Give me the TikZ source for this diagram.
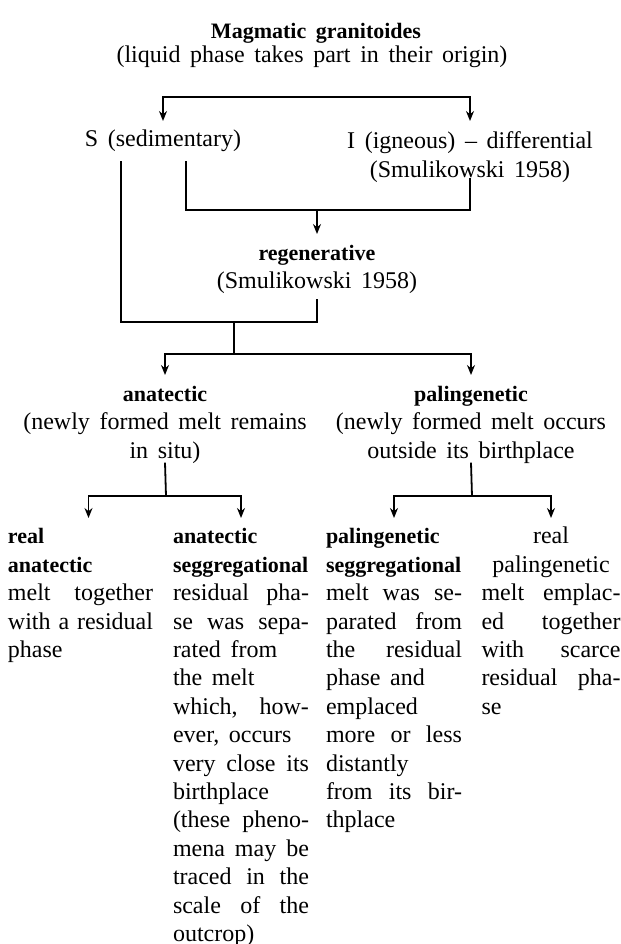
\documentclass[tikz,border=0pt]{standalone}
\usepackage{fontspec}
\setmainfont{Liberation Serif}
\usetikzlibrary{arrows.meta,positioning,calc}
\newcommand\widesp{\spaceskip=0.4em plus 0.3em minus 0.15em\relax}
\tikzset{
  txt/.style={inner sep=0pt,outer sep=3pt,font=\fontsize{12}{14.2}\selectfont,align=center,execute at begin node={\widesp\strut}},
  colbox/.style={txt,text width=#1,align=left},
  link/.style={line width=0.9pt},
  arr/.style={line width=0.9pt,-{Stealth[length=5pt,width=4pt]}},
  arrs/.style={line width=0.9pt,{Stealth[length=5pt,width=4pt]}-{Stealth[length=5pt,width=4pt]}}
}
\newcommand\hd[1]{{\fontsize{11}{14.2}\selectfont\bfseries #1}}
\newcommand\jl[1]{\makebox[\hsize][s]{#1}}

\begin{document}
\begin{tikzpicture}[x=0.5pt,y=-0.5pt]
\useasboundingbox (0,0) rectangle (621,944);
\node[txt,anchor=north] (title) at (316,13) {\hd{Magmatic granitoides}};
\node[txt,anchor=north] (sub) at (312,37) {(liquid phase takes part in their origin)};
\node[txt,anchor=north] (sedi) at (163,121) {S (sedimentary)};
\node[txt,anchor=north] (ign) at (470,126) {I (igneous) -- differential\\(Smulikowski 1958)};
\node[txt,anchor=north] (regen) at (317,239) {\hd{regenerative}\\(Smulikowski 1958)};
\node[txt,anchor=north] (anat) at (165,380) {\hd{anatectic}\\(newly formed melt remains\\in situ)};
\node[txt,anchor=north] (paling) at (471,380) {\hd{palingenetic}\\(newly formed melt occurs\\outside its birthplace};
% the four end members
\node[colbox=72.5pt,anchor=north] (col1) at (80.5,518) {\hd{real}\\\hd{anatectic}\\\jl{melt together}\\\jl{with a residual}\\phase};
\node[colbox=68pt,anchor=north] (col2) at (241,518) {\hd{anatectic}\\\hd{seggregational}\\\jl{residual pha-}\\\jl{se was sepa-}\\rated from\\the melt\\\jl{which, how-}\\ever, occurs\\\jl{very close its}\\birthplace\\\jl{(these pheno-}\\\jl{mena may be}\\\jl{traced in the}\\\jl{scale of the}\\outcrop)};
\node[colbox=68pt,anchor=north] (col3) at (394,518) {\hd{palingenetic}\\\hd{seggregational}\\\jl{melt was se-}\\\jl{parated from}\\\jl{the residual}\\phase and\\emplaced\\\jl{more or less}\\distantly\\\jl{from its bir-}\\thplace};
\node[colbox=69.5pt,anchor=north] (col4) at (551,518) {\makebox[\hsize]{real}\\\makebox[\hsize]{palingenetic}\\\jl{melt emplac-}\\\jl{ed together}\\\jl{with scarce}\\\jl{residual pha-}\\se};
% junctions
\coordinate (jt) at (317,97);
\coordinate (j1) at (317,210);
\coordinate (j2) at (234,322);
\coordinate (j3) at (234,354);
\coordinate (j4) at (166,496);
\coordinate (j5) at (472,496);
\draw[arrs] (sedi.north) |- (jt) -| ([yshift=2.5pt]ign.north);
\draw[link] ($(sedi.south)+(23,0)$) |- (j1) -| ([yshift=7pt]ign.south);
\draw[arr] (j1) -- ([yshift=2.5pt]regen.north);
\draw[link] ($(sedi.south)+(-42,0)$) |- (j2) -| ([yshift=2pt]regen.south);
\draw[link] (j2) -- (j3);
\draw[arr] (j3) -| ([yshift=2.5pt]anat.north);
\draw[arr] (j3) -| ([yshift=2.5pt]paling.north);
\draw[link] ([yshift=5pt]anat.south) -- (j4);
\draw[arr] (j4) -| ([xshift=4pt]col1.north);
\draw[arr] (j4) -| (col2.north);
\draw[link] ([yshift=5pt]paling.south) -- (j5);
\draw[arr] (j5) -| (col3.north);
\draw[arr] (j5) -| (col4.north);
\end{tikzpicture}
\end{document}
